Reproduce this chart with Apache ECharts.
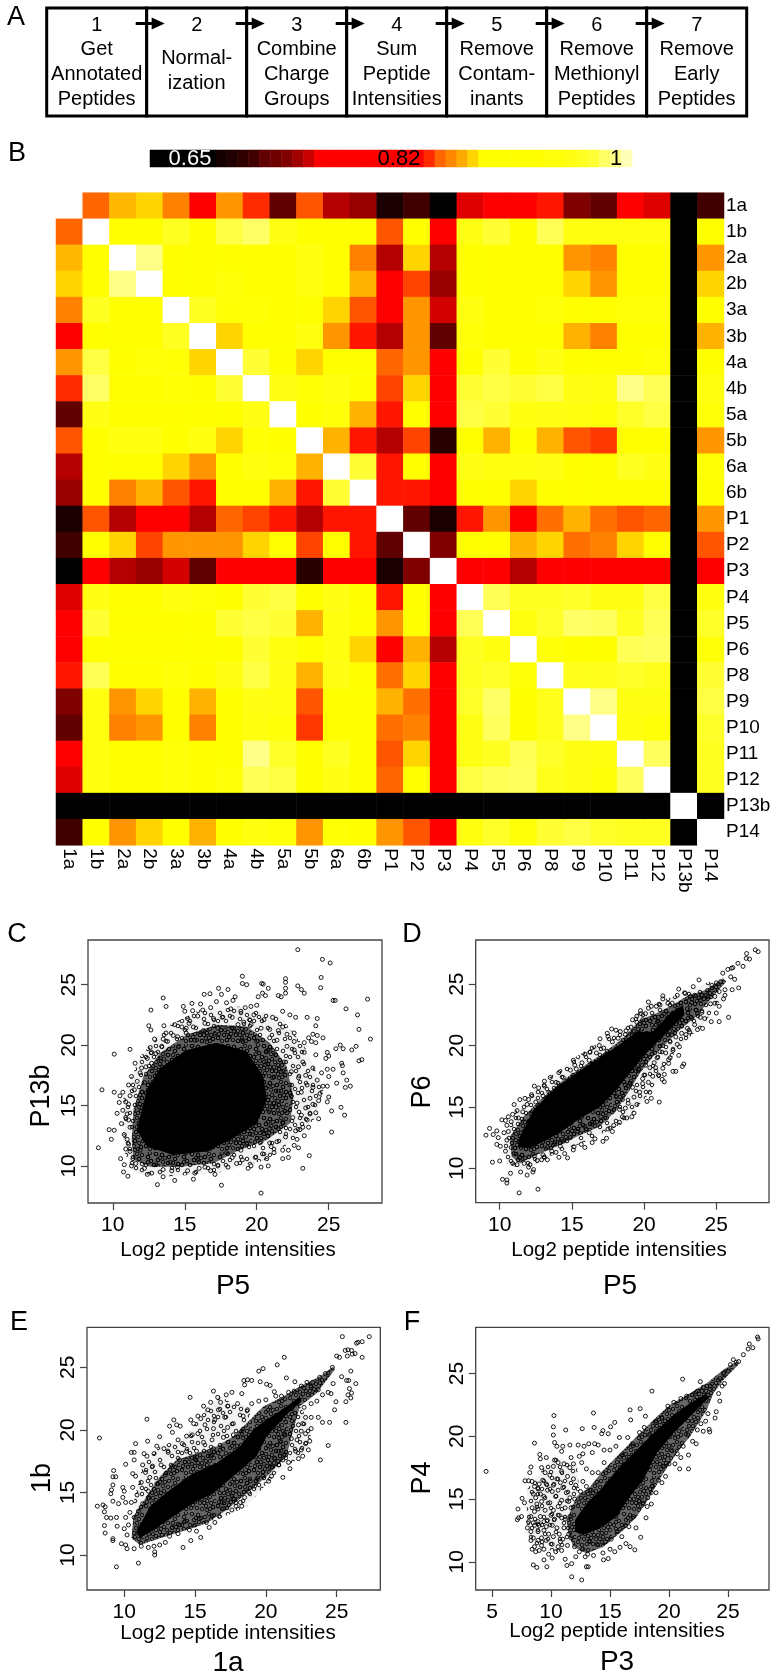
<!DOCTYPE html>
<html><head><meta charset="utf-8">
<style>html,body{margin:0;padding:0;background:#fff}#c{width:777px;height:1680px}</style>
<script src="https://cdn.jsdelivr.net/npm/echarts@6/dist/echarts.min.js"></script>
</head><body><div id="c"></div>
<script>
const FONT='"Liberation Sans",Arial,sans-serif';
// Panel A
const stepNumbers=['1','2','3','4','5','6','7'];
const stepLabels=['Get\nAnnotated\nPeptides','Normal-\nization','Combine\nCharge\nGroups','Sum\nPeptide\nIntensities','Remove\nContam-\ninants','Remove\nMethionyl\nPeptides','Remove\nEarly\nPeptides'];
// Panel B
const samples=['1a','1b','2a','2b','3a','3b','4a','4b','5a','5b','6a','6b','P1','P2','P3','P4','P5','P6','P8','P9','P10','P11','P12','P13b','P14'];
const r1a=[.85,.873,.88,.858,.79,.864,.83,.71,.845,.735,.727,.675,.70,.65,.744,.78,.78,.825,.72,.71,.79,.744,.65,.70];
const r1b=[.90,.90,.94,.90,.955,.97,.93,.91,.90,.90,.845,.90,.78,.93,.95,.91,.96,.925,.925,.925,.925,.65,.91];
const r2a=[.98,.90,.90,.90,.90,.90,.925,.90,.858,.735,.88,.735,.91,.90,.90,.90,.864,.858,.91,.91,.65,.864];
const r2b=[.90,.90,.92,.91,.90,.925,.90,.872,.79,.84,.727,.91,.90,.90,.90,.88,.864,.91,.91,.65,.88];
const r3a=[.94,.915,.915,.91,.90,.88,.845,.78,.864,.742,.925,.91,.90,.92,.90,.90,.92,.92,.65,.91];
const r3b=[.88,.90,.90,.925,.864,.825,.735,.864,.71,.92,.90,.90,.91,.872,.858,.91,.91,.65,.872];
const r4a=[.95,.90,.88,.90,.90,.85,.864,.78,.91,.95,.90,.93,.91,.91,.91,.92,.65,.91];
const r4b=[.93,.915,.925,.90,.84,.88,.78,.95,.955,.95,.955,.93,.925,.98,.96,.65,.925];
const r5a=[.91,.92,.872,.825,.90,.78,.955,.95,.925,.93,.925,.92,.945,.955,.65,.92];
const r5b=[.872,.825,.735,.84,.685,.91,.872,.91,.872,.845,.835,.91,.91,.65,.864];
const r6a=[.95,.825,.90,.78,.93,.925,.925,.93,.91,.91,.94,.93,.65,.915];
const r6b=[.825,.825,.78,.90,.90,.88,.90,.90,.90,.90,.90,.65,.905];
const rP1=[.71,.675,.825,.864,.80,.853,.872,.853,.845,.85,.65,.864];
const rP2=[.72,.90,.90,.872,.88,.853,.858,.88,.90,.65,.845];
const rP3=[.79,.79,.735,.79,.79,.79,.79,.79,.65,.79];
const rP4=[.96,.94,.94,.945,.93,.93,.955,.65,.925];
const rP5=[.925,.945,.97,.965,.94,.96,.65,.945];
const rP6=[.92,.91,.905,.96,.965,.65,.92];
const rP8=[.935,.935,.945,.935,.65,.95];
const rP9=[.98,.93,.93,.65,.955];
const rP10=[.925,.92,.65,.945];
const rP11=[.965,.65,.94];
const rP12=[.65,.94];
const rP13b=[.65];
const upperRows=[r1a,r1b,r2a,r2b,r3a,r3b,r4a,r4b,r5a,r5b,r6a,r6b,rP1,rP2,rP3,rP4,rP5,rP6,rP8,rP9,rP10,rP11,rP12,rP13b,[]];
const heatColors=['#000000','#0a0000','#140000','#200000','#300000','#400000','#600000','#800000','#a00000','#c80000','#ff0000','#ff0000','#ff0000','#ff0000','#ff0000','#ff0000','#ff0000','#ff0000','#ff2a00','#ff4400','#ff6600','#ff8800','#ffaa00','#ffd400','#ffff00','#ffff00','#ffff00','#ffff0a','#ffff14','#ffff22','#ffff33','#ffff55','#ffff66','#ffff88','#ffffb8','#ffffff'];
const keyValues=[.65,.65,.65,.65,.65,.65,.67,.68,.69,.70,.71,.715,.72,.73,.74,.76,.77,.77,.78,.78,.79,.79,.80,.80,.81,.83,.85,.86,.87,.88,.89,.90,.90,.90,.91,.91,.92,.92,.93,.94,.95,.97,.98,.99];
const keyTexts=[['0.65',190,'#fff'],['0.82',399,'#000'],['1',616,'#000']];
// Panels C-F : over-plotted regions (outlines) and readable points
const coreC=[[11.67,12.98],[12.36,16.3],[13.29,18.1],[15.14,19.6],[17.2,20.2],[19.3,19.5],[20.46,17.4],[20.7,15.5],[20,13.5],[18.15,12.15],[16.5,11.2],[14.2,10.9],[12.36,11.6]];
const coreD=[[11.29,12.3],[12.33,14.75],[13.94,16.65],[15.32,17.75],[16.7,18.85],[18.09,19.9],[19.47,21.1],[20.62,21.15],[21.77,22.6],[22.7,23.3],[22.8,22.5],[22,21.55],[20.85,20.2],[19.93,19.1],[19,17.75],[18.09,16.4],[16.94,15],[15.55,14.05],[14.4,13.1],[13.25,12.3],[12.1,11.63],[11.29,11.7]];
const coreE=[[10.87,11.87],[11.81,13.87],[13.22,15.2],[14.87,16.53],[16.52,17.33],[18.16,18.67],[19.1,20],[20.05,20.8],[21.46,21.87],[22.4,22.67],[22.52,22.27],[21.46,21.2],[20.05,19.47],[19.34,17.87],[17.69,16.27],[16.28,14.93],[14.87,14.13],[13.46,13.07],[12.05,12],[11.1,11.33]];
const coreF=[[12.03,13.32],[13.02,14.65],[14.44,15.98],[15.56,17.31],[16.98,18.64],[18.67,20.24],[20.37,21.7],[21.78,22.63],[23.19,23.43],[23.33,23.03],[21.78,21.57],[20.37,20.24],[18.95,18.64],[17.82,16.52],[16.69,15.19],[15.56,13.59],[14.15,12.66],[12.74,12.13],[12.03,12.39]];
const haloC=[[11.32,12.15],[11.44,14.64],[12.13,17.4],[13.29,19.34],[15.14,20.86],[17.22,21.69],[19.31,21.55],[20.93,20.17],[22.08,18.23],[22.55,15.75],[22.31,13.54],[20.69,12.15],[18.84,11.33],[16.99,10.22],[14.68,9.94],[12.59,9.94],[11.44,10.5]];
const haloD=[[10.71,12.58],[11.64,14.21],[12.79,15.57],[14.4,17.2],[15.78,18.29],[17.17,19.38],[18.55,20.6],[19.7,22.09],[20.85,22.64],[22,23.32],[22.93,24],[24.31,24.54],[25.46,25.49],[25.69,25.22],[24.54,23.72],[23.62,22.36],[22.47,21.28],[21.54,20.19],[20.62,19.1],[19.7,17.74],[19.01,16.39],[18.09,14.76],[16.94,13.4],[15.32,12.58],[13.94,11.77],[12.56,11.09],[11.41,10.41],[10.83,10.95]];
const haloE=[[10.52,11.33],[10.64,13.07],[11.58,14.67],[12.52,16.27],[13.69,17.6],[15.11,18.13],[16.52,18.67],[17.69,19.47],[18.64,20.53],[19.81,21.87],[21.22,22.67],[22.4,23.47],[23.81,24.27],[24.75,25.07],[24.87,24.8],[23.58,22.93],[22.4,21.87],[21.93,20],[21.46,17.87],[20.05,16.27],[18.64,14.93],[17.22,13.6],[15.81,12.53],[14.4,12],[12.52,11.33],[11.11,10.8]];
const haloF=[[11.33,13.32],[12.18,15.19],[13.31,15.98],[14.44,17.31],[15.85,18.64],[17.26,19.97],[18.67,21.3],[20.08,22.5],[21.78,23.43],[23.19,24.23],[24.6,25.29],[25.73,25.96],[25.88,25.69],[24.6,24.49],[23.76,23.43],[23.19,22.1],[21.78,19.97],[20.65,18.64],[19.52,17.05],[18.39,15.19],[17.26,13.59],[16.13,12.53],[14.44,11.2],[13.02,10.66],[11.89,11.2],[11.47,12.26]];
const fringeC=[[10.74,11.33],[10.74,15.75],[11.9,19.06],[13.75,21.55],[16.06,22.93],[18.84,23.2],[21.62,22.38],[23.47,19.61],[24.63,16.3],[24.17,14.09],[22.55,12.15],[20.69,10.5],[17.22,9.39],[13.75,9.12],[11.44,9.39]];
const fringeD=[[10.25,12.04],[11.18,15.03],[13.48,17.47],[15.32,19.1],[17.17,20.46],[19.01,21.82],[19.93,23.18],[22,24],[24.54,25.22],[25.46,24],[24.08,21.68],[22.24,19.65],[21.31,17.74],[20.16,15.84],[18.55,13.67],[16.24,12.31],[13.94,11.22],[11.64,9.86],[10.48,10.41]];
const lobeE1=[[10.64,14.13],[11.34,17.33],[12.52,18.67],[14.4,19.47],[15.34,21.07],[16.75,22.67],[17.69,22.13],[19.11,21.87],[18.16,19.2],[15.34,17.33],[12.52,16],[11.11,13.07]];
const lobeE2=[[22.4,21.87],[23.22,20.53],[23.11,18.67],[22.16,17.6],[20.75,16.53],[18.64,13.87],[16.28,12.67],[15.81,13.6],[20.05,18.67]];
const cloudF=[[7.94,12.26],[7.94,15.72],[8.79,16.78],[10.2,18.38],[12.18,17.85],[12.46,15.19],[11.61,13.59],[11.61,11.2],[10.48,10.8],[8.5,11.2]];
// Speckle tile standing in for over-plotted circles inside the outlines above
const speckleSpots=[[4,5],[18,3],[31,7],[10,13],[24,11],[34,18],[5,22],[16,20],[27,25],[11,32],[22,33],[33,31],[2,30],[20,27],[14,8],[28,16],[8,27],[2,13],[12,2],[25,5],[34,12],[7,9],[19,10],[30,21],[12,18],[23,18],[4,17],[15,26],[26,30],[6,33],[17,32],[31,27],[22,23],[9,22],[35,25],[29,2],[20,15],[14,14],[3,26],[26,21],[8,17],[18,23],[32,15],[12,24],[29,11],[24,27],[16,6],[6,1],[34,3],[21,6],[27,34],[13,29],[4,10],[30,33],[17,17]];
const tile=(count,base)=>{const c=document.createElement('canvas');c.width=c.height=36;const g=c.getContext('2d');
 g.fillStyle=base;g.fillRect(0,0,36,36);g.strokeStyle='#000';g.lineWidth=.9;
 speckleSpots.slice(0,count).forEach(s=>{g.beginPath();g.arc(s[0],s[1],1.8,0,6.3);g.stroke();});return c;};
const fills={fringe:{type:'pattern',image:tile(22,'rgba(0,0,0,.05)'),repeat:'repeat'},halo:{type:'pattern',image:tile(55,'rgba(0,0,0,.6)'),repeat:'repeat'},core:'#000'};
const pointsC=[[22.85,27.9],[24.56,27.1],[25.1,26.8],[24.47,25.6],[24.44,24.75],[19,25.7],[19,25.1],[19.3,25],[20.35,25.1],[20.45,25.05],[22,25.5],[22,25.2],[22,24.7],[22,24.3],[22.85,24.9],[23.1,24.6],[23.3,24.3],[27.7,23.8],[25.3,23.7],[25.45,23.7],[26.2,23],[27,22.5],[27.1,21.3],[27.9,20.5],[26.9,19.9],[26.6,19.6],[25.8,20],[26,19.7],[25.5,19.7],[27.1,18.7],[27.3,18.8],[25.9,18.5],[25.95,18.3],[26,17.7],[26.25,17.1],[26.5,16.6],[26.15,16.5],[25.55,16.85],[26.1,14.2],[25.85,14.85],[25.2,14.55],[25.2,12.8],[23.65,10.85],[23.2,9.8],[20.3,7.75],[17.55,8.4],[13.1,8.45],[14.3,8.8],[15.6,8.9],[9,11.5],[9.25,16.3],[10.1,16.1],[10.1,19.25],[11.2,19.65],[11.55,18.5],[9.75,13],[10.1,12.95],[9.9,12.2],[10.3,14.35],[10.45,15.25],[10.55,10.6],[10.75,9.5],[11.05,9.15],[10.8,10.1],[13.5,23.9],[13.7,23.2],[12.65,22.9],[12.5,21.6],[12.65,21.25],[13.55,21.6],[13.7,21],[14.9,23.2],[15.5,23.45],[15.55,22.85],[16.1,23.4],[16.35,24.2],[16.75,24.25],[17.35,24.7],[18,24.6],[17.55,24.2],[18.5,24],[18.35,23.7],[17.9,23.5],[17.2,23.6],[16.8,23.1],[16.25,22.9],[15.9,22.4],[15.2,22.2],[14.3,21.7],[14.8,21.5],[15.3,21.8],[15.6,21.5],[16.4,21.8],[17,22.2],[17.6,22.3],[18.3,22.3],[18.9,22.8],[19.2,23.1],[19.6,23.2],[20,23.3],[20.4,24.3],[20.1,24],[20.8,24.7],[20.6,24.1],[21.5,24.1],[21.7,24],[21.8,22.8],[22.3,22.5],[22.7,22.3],[23.5,22.3],[24.2,22.2],[24.1,21.6],[23.9,20.9],[24.6,20.6],[24.2,20.8],[23.6,20.6],[23.3,20.2],[23.8,20.3],[24.1,20.2],[22.6,21],[22.1,20.9],[21.5,21.2],[20.9,21.3],[20.3,21.4],[19.6,21.7],[19.1,21.9],[18.4,21.4],[21.1,22.3],[21.4,20.4],[22.1,19.9],[22.6,19.6],[23.3,19.4],[24.1,19.2],[24.9,19.4],[25,19.1],[24.8,18.9],[23.2,18.6],[23.9,18.1],[24.5,17.7],[24.9,18],[25.3,18],[25,17.4],[24.6,16.6],[24.9,16.6],[25,15.7],[24.9,15.3],[24.3,15.4],[23.9,15.1],[24.1,14.4],[23.7,14.3],[23.5,13.8],[23.2,13.2],[23,13],[22.7,12.9],[23.3,12.5],[22.6,11.7],[22.9,11.5],[22.2,11.3],[21.8,11.3],[22.2,10.7],[21.8,10.6],[20.8,10],[21,11.6],[20.9,11.9],[21.4,12],[20.3,12],[20.4,11],[19.9,10.7],[19.6,10],[19.4,9.8],[20.3,9.9],[18.6,10.2],[18.3,10.7],[17.3,10],[17.1,9.3],[16,9.8],[16.4,9.9],[15.9,10.5],[15.7,9.4],[14.5,9.9],[14.1,9.6],[13.5,9.7],[12.7,9.4],[13.5,9.1],[12.2,9.8],[11.6,10.2],[11.4,10.6],[11.2,11.2],[11.1,11.8],[11,12.2],[10.8,12.6],[11.2,13.2],[11.1,13.8],[11,14.3],[10.7,14.6],[11.1,15.1],[10.9,15.3],[11.2,15.8],[11.5,16.3],[11.7,17],[11.9,17.7],[12.3,18.2],[12.7,18.5],[12.4,18.9],[12.6,19.8],[13,19.3],[13.4,19.9],[13.5,20.5],[13.8,20.3],[14.5,20.7],[15.1,21],[17.1,20.9],[18.1,20.7],[19,20.4],[20,20.3],[20.7,19.5],[21.3,19.2],[21.9,18.6],[22.4,17.8],[22.9,17.3],[23.5,16.7],[23.1,16.1],[22.4,15.8],[22.8,15.2],[22.1,14.4],[21.8,13.6],[21.5,13.1],[20.9,13.1],[20.5,12.7],[19.3,11.8],[18.9,11.3],[17.9,11.1],[11.9,11.3],[12.2,12.2],[12,13.9],[11.9,15.1],[12.2,16.9],[20.6,18.4],[21.1,17.3],[21.5,16.2],[21.2,15.2],[21.7,17.8],[20.9,14.6],[22.5,14],[19.7,12.6],[20.9,20.6],[16.7,20.6],[15.7,20.4],[14.6,19.9],[13.3,18.9],[22.3,16.7],[22.9,18.2],[23.4,17.5],[23.7,15.6],[23.4,14.8],[23.1,14.2],[24.4,16],[23.9,16.5],[24.2,17.1],[22.6,20.3],[21.8,21.5],[20.5,22.1],[19.8,22.5],[18.7,21.7],[17.3,21.4],[16.3,21.2],[15.1,21.4],[14.2,20.8],[12.9,20.5],[12.7,19.4],[12,18.1],[11.3,17.4],[11.1,16.7],[10.7,16.1],[10.5,15.8],[10.9,14],[10.6,13.5],[10.9,11.4],[11.3,10],[12.4,9.3],[13,10.1],[14,10.3],[15.2,9.6],[16.8,9.6],[18,9.9],[19,10.5],[20.7,10.6],[21.2,11.1],[22,12.4],[22.8,12.2],[23.6,13.2],[24.3,13.9],[18.2,23],[19.5,22.1],[15,22.8]];
const pointsD=[[27.7,27.8],[27.9,27.65],[27.1,27.5],[27.07,27.1],[27.3,27.05],[26.5,26.7],[26.85,26.45],[26.05,26.3],[26.15,26.35],[25.8,26.2],[25.45,25.9],[26.27,25.4],[26,25.6],[26.55,24.7],[26.1,24.55],[25.6,24.55],[25.6,24.1],[25.5,23.8],[25.2,23.2],[25,22.65],[25.85,22.3],[24.65,21.95],[25.2,21.95],[23.8,25.35],[24.9,23.45],[24.05,21.4],[23.7,21.3],[23.5,21.7],[23.15,21.1],[22.45,19.9],[22.4,19.2],[22.75,18.5],[22.65,18.3],[22,17.9],[22.2,17.9],[21.7,18.85],[21.7,18.55],[21.3,18.15],[21.4,17.65],[21.25,17.25],[21.4,17.05],[21.05,15.4],[20.5,15.7],[20.2,15.45],[19.3,14.5],[19.15,14.2],[18.8,14.1],[18.3,13.75],[17.5,13.2],[17.4,12.45],[17.15,12.2],[15.65,11.95],[15.15,11.75],[14.7,10.85],[15.1,11.5],[12.65,8.3],[11.35,8],[12.3,9.7],[11.9,9.45],[11.45,9.7],[10.75,9.6],[10.5,9.05],[10.2,9.1],[10.5,8.8],[10,10.6],[9.5,10.5],[9.05,12.7],[9.3,13.25],[9.55,12.75],[9.8,13.05],[9.9,12.5],[10.15,13.95],[10.4,13.9],[9.8,11.95],[10.05,11.8],[12.7,16.55],[11.4,15.6],[11.75,15.7],[11.2,14.7],[16.95,20.55],[17.75,21.35],[18.05,21.25],[18.35,21.15],[17.45,21],[17.5,20.75],[15.9,19.3],[16.25,19.45],[18.75,21.2],[19.75,22.85],[20.3,23.55],[20.3,23.05],[20.5,23.2],[20.85,23.2],[21.1,23.3],[21.3,24.05],[21.3,23.8],[22.3,24.1],[22.8,24.3],[22.85,24.25],[21.65,23.45],[21.95,23.45],[23.2,24],[23.5,24.1],[24,24.1],[24.4,24.5],[24.7,24.9],[25,25.1],[25.3,25.2],[24.4,24],[23.9,23.7],[23.3,23.5],[23,23],[23.6,22.9],[24,22.7],[23.9,22.3],[24.2,22.2],[23.3,22.2],[22.6,21.6],[22.6,21],[22.9,20.9],[22.2,20.7],[21.8,20.3],[22,19.6],[21.5,19.4],[21.3,20],[21.1,19.5],[20.9,19],[20.7,18.6],[20.4,18.2],[20.1,18.4],[20,17.6],[19.9,16.9],[20.4,16.2],[19.7,16.2],[19.3,15.8],[19.2,16.6],[18.9,15.3],[18.5,15.6],[18.3,14.8],[18.7,14.9],[17.8,14.6],[17.4,14.1],[17,14.2],[16.4,13.6],[15.9,13.4],[15.4,13],[14.9,12.5],[14.4,12.2],[14.2,11.8],[13.8,12],[13.6,11.4],[13.3,11.7],[13,11.1],[12.9,10.7],[12.6,10.65],[13.3,10.7],[13.1,10.9],[12.4,11],[12.1,10.3],[12,10.1],[11.7,10.4],[11.4,10.9],[11,11.2],[10.9,10.4],[10.8,11.7],[10.5,12.3],[10.6,13],[10.5,13.5],[10.8,13.8],[10.9,14.4],[11.3,14.1],[11.6,14.6],[11.9,15.2],[12,15.6],[12.5,15.4],[13,15.9],[13.4,16.2],[13.9,17],[14.4,17.4],[14.9,18],[15.3,18.1],[15.7,18.6],[16.2,18.8],[16.7,19.4],[17.2,19.8],[17.8,20.3],[18.2,20.6],[18.7,20.9],[19.1,21.5],[19.5,21.9],[19.9,22.1],[20.1,22.6],[21,22.3],[20.9,21.9],[19.8,22.6],[12.2,16],[13.1,16.7],[13.5,17.4],[15.1,17.4],[15.2,18.4],[16.9,20],[15.9,11.7],[16.6,12.4],[16.2,12.9],[17.9,13.5],[18.7,16.8],[19.1,17.1],[19.6,18],[20.6,17.5],[21,17.6],[12.8,13.1],[14.1,10.9],[12.35,9.9],[19.9,17.3],[20.3,17],[20.8,18.2],[21.8,19],[22.3,20.1],[23,21.4],[23.7,22.6],[24.6,23.4],[25.2,24.4],[24.9,24],[23.4,24.8],[22.4,24.6],[19.5,22.4],[19.2,22.1],[16.4,19.8],[15.1,18.8],[14.1,17.8],[13.1,17.1],[12.4,16.7],[11,15.2],[10.6,14.2],[10.3,12.9],[10.4,11.4],[11.2,10.3],[13.9,11.3],[14.5,11.2],[16.4,12.1],[17.8,13],[18.5,14.2],[19.5,15.2],[18.1,15.9]];
const pointsE=[[27.3,27.45],[25.4,27.45],[26.8,27.05],[26.5,27],[26.4,26.93],[26.8,25.8],[25.8,26.4],[25.6,26.35],[26.05,26.35],[26.3,26.1],[26.1,26.05],[25.75,25.9],[25,25.9],[25.2,25.8],[25.35,24.25],[26,24.7],[25.7,23.95],[25.85,23.95],[26.35,23.7],[25.9,23.3],[26.05,22.95],[25.8,22.8],[25.65,22.25],[26,22.55],[25.65,20.6],[24.5,20.6],[24.4,18.75],[23.85,17.6],[24.85,21.6],[24.95,22.25],[24.75,23.7],[21.3,25.8],[20.8,25.2],[19.8,24.9],[19.5,24.7],[21.45,24.15],[22.05,23.85],[19.6,23.85],[20.05,23.65],[20.3,23.55],[20.6,23.05],[19,23.95],[18.7,24],[18.45,23.95],[18.5,23.6],[16.3,23.1],[14.65,22.6],[11.6,20.85],[13.5,20.8],[8.25,19.35],[10.8,18.9],[11.65,19.1],[12.5,19.45],[13.2,20.3],[13.7,20.4],[13.95,20.3],[10.1,17.25],[8.1,13.9],[8.5,14],[8.65,13.85],[8.6,13.45],[8.75,13],[8.6,12.35],[8.65,11.75],[9.25,16.75],[9.4,16.25],[9.2,16.25],[9.1,15.2],[9.2,15.6],[9.05,14.9],[9.45,13],[9.05,12.95],[9.45,9.05],[11,9.35],[14.15,10.6],[15.4,11.4],[14.7,11.15],[12.15,10],[12.15,10.25],[9.2,11.3],[9.2,11.15],[9.5,12.3],[9.2,14.3],[9.6,14.1],[9.9,14.6],[9.9,15.4],[10.5,14.2],[10.6,15.4],[10.8,16.3],[10.6,16.5],[10.7,17.6],[10.5,18.2],[10.7,18.2],[11.4,18.1],[11.6,17.9],[11.3,17.2],[11.5,16.6],[11.2,15.8],[12.1,18.1],[12.3,18.7],[12.8,18.5],[13.4,19.8],[13.8,19.2],[14.4,19.5],[14.8,19.6],[14.9,20.5],[15.4,20.9],[15.7,20.4],[16.3,20.1],[15.9,21.6],[16.1,22.2],[16.6,22.6],[16.8,22.2],[16.65,21.6],[17.2,22.8],[17.6,23],[18,22.1],[18.3,22.9],[17.3,21.9],[17.1,21],[17.7,20.5],[18.4,21.1],[18.7,21.6],[19,22.1],[19.5,22.3],[20,22.4],[20.7,22.7],[21.1,22.7],[21.6,23],[22,23.1],[22.5,23.5],[22.9,23.8],[23.3,23.8],[23.8,24.2],[24.2,24.5],[24.7,25],[23.2,23.4],[23.7,23.2],[24,22.8],[24.4,23],[24.6,22.9],[23.2,22.1],[23.6,22.3],[22.7,21.8],[22.8,21],[23.2,21],[23.7,21],[24,20.6],[23.2,20.1],[22.6,20.5],[22.3,20.4],[22.8,19.7],[23.1,19.1],[22.8,18.9],[22.5,18.4],[22.6,17.9],[22.3,17.7],[22.1,18.3],[21.8,19.3],[21.3,19.7],[21,19.1],[20.9,18.3],[21.4,18],[21.2,17.6],[20.6,17.7],[20.9,17.2],[20.3,17],[19.8,16.3],[19.4,16.1],[18.9,15.9],[19.2,15.5],[18.8,15],[18.5,14.6],[18.2,14.2],[18.3,13.9],[17.9,13.9],[17.7,14.5],[17.6,13.6],[16.9,14.2],[16.7,13.1],[16.2,13.1],[16.4,12.6],[16,12.2],[15.8,12.6],[15.3,12.9],[15,12.4],[14.6,12],[14.3,12.7],[13.9,12.4],[13.4,12.2],[13.2,11.5],[12.9,11],[12.5,10.8],[12.1,10.7],[11.7,10.6],[11.2,10.7],[10.7,10.5],[10.2,10.5],[10.1,10.8],[9.8,10.9],[10.2,11.6],[10,12.1],[10.3,12.4],[10.1,13],[10.4,13.4],[10.7,13],[11,13.5],[11.3,14.1],[11.7,15.1],[12.3,15.7],[12.9,16.4],[13.4,17.1],[13.9,17.6],[14.4,18.3],[15.1,18.3],[15.6,19],[16.3,18.5],[17,19.4],[17.7,19.6],[18.3,19.9],[11.7,14.6],[12.6,17.2],[15,17.7],[16.1,17.9],[20.4,16.3],[21.7,16.9],[21.2,16.2],[22.2,19.2],[22.5,19.9],[23,18.4],[21.6,17.4],[20.2,15.9],[17,13.7],[15.1,11.9],[13.8,11.7],[15.2,19.7],[14.7,20.8],[15.2,21.1],[15.6,21.9],[16.4,20.8],[16.2,19.2],[17.3,20.2],[14.1,18.9],[13.1,18.2],[12,17.1],[11.8,16.2],[10.9,14.8],[10.1,14.2],[10,15.1]];
const pointsF=[[27.5,27.9],[27.55,27.75],[26.8,27.35],[27.1,27.05],[26.7,26.95],[26.3,26.5],[25.9,25.95],[25.45,26.1],[25.7,25.9],[25.2,25.7],[25,25.2],[24.6,25],[24.3,24.6],[24.7,24.2],[24.5,24],[21.15,24.55],[18.55,23.6],[22.65,24.35],[16.7,22.1],[17.55,22.2],[18,21.6],[16.75,21.3],[15.4,21.1],[15.05,20.75],[13.6,21.85],[13.65,20.7],[12.65,20.6],[10.25,21.65],[10.2,20.75],[10.2,20.1],[11.25,20.5],[14.4,20.45],[14.85,20.2],[14.3,20.2],[4.5,17.2],[8.6,19.45],[9.05,18.55],[9.1,18.2],[7.2,14.2],[7.55,15.05],[7.75,14.7],[7.15,13.35],[7.25,13.5],[7.5,13.6],[7.8,16.45],[8.1,16.45],[8.3,17.55],[8.2,17.1],[8.5,9.75],[8.8,9.55],[9.65,9.6],[9.4,10.15],[12.6,8.55],[11.75,8.8],[13,9.6],[13.15,9.6],[11.35,9.7],[11.75,9.85],[14.45,10.15],[14.85,10.25],[17.1,10.95],[17.6,11.95],[15.4,10.8],[15.85,11.15],[16.35,11.45],[16.7,11.2],[18.05,13.5],[18.15,14.4],[17.8,14.6],[21.65,17.4],[20.9,17.4],[21.65,18.5],[23.45,20.35],[23.4,20.55],[23.9,21.45],[24,21.95],[24.3,22.8],[24.2,23.4],[23.3,21.8],[23.1,21.2],[22.9,20.4],[22.4,20.5],[22,19.6],[21.6,20.1],[21.2,19.2],[20.7,18.6],[20.2,18.9],[20,17.8],[19.6,17.6],[19.7,16.8],[19.4,16.3],[19.1,16.5],[18.6,16],[18.5,15.5],[18.2,15.1],[17.5,14.8],[17,13.6],[16.6,12.8],[16.3,12.9],[15.6,12.4],[15.1,11.8],[14.6,11.6],[14.4,10.7],[13.9,11.4],[13.3,11.6],[13.1,10.6],[12.7,11],[12.4,10.8],[12,11.2],[11.7,11.9],[11.5,12.2],[11.6,13.6],[11.7,14.3],[12,15],[12.5,15.6],[13,16],[13.4,15.7],[14,17.1],[14.5,17.9],[15,18.9],[15.5,19.2],[16,18.5],[16.5,19.9],[16.9,19.4],[17.5,20.3],[17.9,20.7],[18.3,20.1],[18.9,21.1],[19.4,21.5],[19.9,22.4],[20.4,22.7],[21,23],[21.5,23.2],[22,23.3],[22.4,23.6],[22.9,23.9],[23.5,24],[8.4,16.4],[8.6,16],[8.9,15.8],[8.5,15.4],[8.7,15.1],[9.1,15.4],[9.4,15.2],[9.7,15.7],[8.8,14.6],[8.4,14.3],[8.6,14],[8.3,13.6],[8.1,13.2],[8,12.7],[8.3,12.4],[8.6,12.9],[8.9,13.2],[9.1,13.6],[9.4,13.2],[9.7,13.3],[10,13.7],[10.2,14.1],[10.6,14.4],[10.9,14.9],[10.4,15.2],[10.1,15.6],[10.2,16.1],[10.5,16.6],[10.8,16.3],[11,15.9],[11.4,16.8],[11.9,16.6],[9.2,17.5],[9.5,17.1],[9.9,16.9],[10.2,17.6],[10.3,18.1],[10.6,17.9],[10.9,18.8],[10.5,19.2],[10.3,19.5],[11,19.2],[11.6,19.3],[12.3,19.3],[12.8,19.2],[13.2,19.4],[13.5,18.7],[12.7,18.6],[12.4,18.4],[11.7,18.3],[11.9,17.8],[12.6,17.9],[13,17.4],[13.5,17.1],[11.6,17.5],[8.5,11.9],[8.3,11.7],[8.6,11.2],[8.4,11],[8.9,11.7],[9.2,11.9],[9.6,11.7],[9,10.9],[8.7,10.8],[9.4,11],[9.8,10.6],[10.1,10.3],[10.4,10.8],[10.6,11.2],[10.9,10.9],[11,11.8],[11.4,11.3],[10.8,11.6],[10.2,12],[10.5,12.7],[10.1,12.9],[9.8,12.2],[9.4,12.5],[8.9,12.4],[11.1,12.7],[11.2,13.4],[10.9,13.5],[11.2,14.3],[11.6,15.1],[11.3,15.5],[9.9,14.7],[9.5,14.1],[9.2,14.8],[12.1,16.1],[12.7,16.4],[14.5,18.9],[14,19.3],[15.8,19.9],[13.7,19.4],[9,16.2],[9.3,16.5],[8.9,14.2],[9.6,16.2],[10.6,15.7],[11.5,14.8],[10.7,13.7],[10.3,13.4],[9.6,12.8],[9,12.9],[8.5,13.1],[9.2,11.3],[10.1,11.4],[10.7,12.2],[11.2,10.2],[12.1,10.4],[12.9,10.4],[13.6,10.5],[15,11],[16,12],[17.2,12.7],[18.5,14.6],[18.9,15.5],[20.5,17.8],[21,18.3],[22.3,19.4],[22.7,21],[11.1,17.8],[10.9,17.2],[9.6,18.3]];
// Axis layout of each scatter panel, as read from the frames
const panels=[
 {letter:'C',lx:8,ly:935,xName:'P5',yName:'P13b',pts:pointsC,shades:[[fringeC,'fringe'],[haloC,'halo'],[coreC,'core']],l:88,t:940,w:294,h:263,xMin:8.28,xMax:28.7,yMin:6.93,yMax:28.7,xt:[10,15,20,25],tx:228,ty:1250,bx:233,by:1286,ny:1096,nx:42},
 {letter:'D',lx:403,ly:935,xName:'P5',yName:'P6',pts:pointsD,shades:[[fringeD,'fringe'],[haloD,'halo'],[coreD,'core']],l:475.7,t:940,w:293.3,h:262.7,xMin:8.34,xMax:28.65,yMin:7.2,yMax:28.6,xt:[10,15,20,25],tx:619,ty:1250,bx:620,by:1286,ny:1092,nx:423},
 {letter:'E',lx:10,ly:1323,xName:'1a',yName:'1b',pts:pointsE,shades:[[lobeE1,'fringe'],[lobeE2,'fringe'],[haloE,'halo'],[coreE,'core']],l:87,t:1327.3,w:293.3,h:262.7,xMin:7.37,xMax:28.08,yMin:7.2,yMax:28.2,xt:[10,15,20,25],tx:228,ty:1633,bx:228,by:1663,ny:1478,nx:43},
 {letter:'F',lx:403,ly:1323,xName:'P3',yName:'P4',pts:pointsF,shades:[[cloudF,'fringe'],[haloF,'halo'],[coreF,'core']],l:475.7,t:1327.3,w:293.3,h:262.7,xMin:3.62,xMax:28.47,yMin:7.75,yMax:28.68,xt:[5,10,15,20,25],tx:617,ty:1631,bx:617,by:1662,ny:1478,nx:423}
];
const yTicks=[10,15,20,25];

const n=samples.length,cells=[];
for(let i=0;i<n;i++){cells.push([i,i,1]);upperRows[i].forEach((v,k)=>{const j=i+1+k;cells.push([j,i,v]);cells.push([i,j,v]);});}

const txt=(x,y,text,size,extra)=>Object.assign({type:'text',x,y,z:100,silent:true,style:{text,font:`${size}px ${FONT}`,fill:'#000',align:'center',verticalAlign:'middle',lineHeight:25}},extra||{});
const graphics=[];
[['A',16,18],['B',17,154]].forEach(a=>graphics.push(txt(a[1],a[2],a[0],27)));
stepLabels.forEach((lab,i)=>{
 graphics.push({type:'rect',z:90,silent:true,shape:{x:46.7+i*100,y:8,width:100,height:108},style:{fill:'#fff',stroke:'#000',lineWidth:3}});
 const cx=96.7+i*100;
 graphics.push(txt(cx,25,stepNumbers[i],20));
 graphics.push(txt(cx,lab.split('\n').length===3?74.5:70.5,lab,20));
});
for(let i=0;i<6;i++){const b=146.7+i*100;
 graphics.push({type:'line',z:95,silent:true,shape:{x1:b-11,y1:23.5,x2:b+6,y2:23.5},style:{stroke:'#000',lineWidth:3}});
 graphics.push({type:'polygon',z:95,silent:true,shape:{points:[[b+18,23.5],[b+5,17.5],[b+5,29.5]]},style:{fill:'#000'}});
}
keyTexts.forEach(k=>graphics.push(txt(k[1],159,k[0],22,{style:{text:k[0],font:`22px ${FONT}`,fill:k[2],align:'center',verticalAlign:'middle'}})));

const grid=[{left:56,top:192.7,width:668,height:652.6},{left:150,top:150,width:482,height:17}];
const xAxis=[
 {type:'category',gridIndex:0,data:samples,position:'bottom',axisLine:{show:false},axisTick:{show:false},splitLine:{show:false},axisLabel:{interval:0,rotate:-90,margin:3,fontSize:19,fontFamily:FONT,color:'#000'}},
 {type:'category',gridIndex:1,data:keyValues.map((v,i)=>i),show:false}
];
const yAxis=[
 {type:'category',gridIndex:0,data:samples,inverse:true,position:'right',axisLine:{show:false},axisTick:{show:false},splitLine:{show:false},axisLabel:{interval:0,margin:2,fontSize:19,fontFamily:FONT,color:'#000'}},
 {type:'category',gridIndex:1,data:['k'],show:false}
];
const series=[
 {type:'heatmap',xAxisIndex:0,yAxisIndex:0,data:cells,silent:true,progressive:0,animation:false},
 {type:'heatmap',xAxisIndex:1,yAxisIndex:1,data:keyValues.map((v,i)=>[i,0,v]),silent:true,progressive:0,animation:false}
];
panels.forEach((p,i)=>{
 const gi=i+2;
 grid.push({left:p.l,top:p.t,width:p.w,height:p.h,show:true,borderColor:'#444',borderWidth:1.3,backgroundColor:'transparent'});
 const ax={gridIndex:gi,type:'value',splitLine:{show:false},axisLine:{show:false}};
 xAxis.push(Object.assign({},ax,{min:p.xMin,max:p.xMax,axisTick:{length:7,lineStyle:{color:'#444',width:1.2},customValues:p.xt},axisLabel:{customValues:p.xt,margin:12,fontSize:21,fontFamily:FONT,color:'#000'}}));
 yAxis.push(Object.assign({},ax,{min:p.yMin,max:p.yMax,axisTick:{length:7,lineStyle:{color:'#444',width:1.2},customValues:yTicks},axisLabel:{customValues:yTicks,rotate:90,margin:8,fontSize:21,fontFamily:FONT,color:'#000'}}));
 p.shades.forEach(s=>series.push({type:'custom',xAxisIndex:gi,yAxisIndex:gi,silent:true,animation:false,data:s[0],encode:{x:0,y:1},
  renderItem:(params,api)=>params.dataIndex===0?{type:'polygon',shape:{points:s[0].map(c=>api.coord(c))},style:{fill:fills[s[1]]}}:null}));
 series.push({type:'scatter',xAxisIndex:gi,yAxisIndex:gi,data:p.pts,silent:true,animation:false,progressive:0,symbol:'circle',symbolSize:4,itemStyle:{color:'rgba(255,255,255,0)',borderColor:'#000',borderWidth:.9,opacity:1}});
 graphics.push(txt(p.lx+9,p.ly,p.letter,27));
 graphics.push(txt(p.tx,p.ty,'Log2 peptide intensities',20.5));
 graphics.push(txt(p.bx,p.by,p.xName,28));
 graphics.push(txt(p.nx,p.ny,p.yName,27,{rotation:Math.PI/2}));
});
const chart=echarts.init(document.getElementById('c'),null,{width:777,height:1680});
chart.setOption({animation:false,backgroundColor:'#fff',
 textStyle:{fontFamily:FONT},
 visualMap:{show:false,type:'continuous',min:.65,max:1,seriesIndex:[0,1],inRange:{color:heatColors},calculable:false},
 grid,xAxis,yAxis,series,graphic:{elements:graphics}});
</script></body></html>
